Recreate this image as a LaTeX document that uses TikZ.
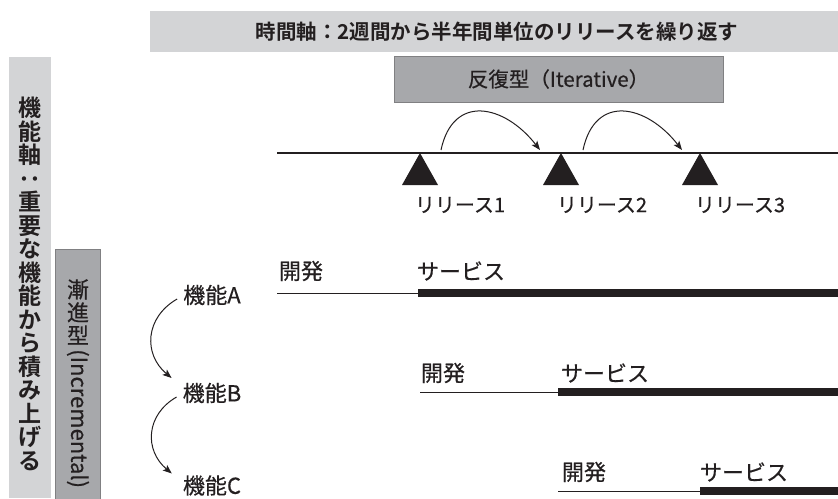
\documentclass[tikz,border=0pt]{standalone}
\usepackage{fontspec}
\setmainfont{Noto Sans CJK JP}[BoldFont={Noto Sans CJK JP Bold}]
\newfontfamily\jpm{Noto Sans CJK JP}[FakeBold=0.5]
\usetikzlibrary{arrows.meta,calc}
\definecolor{lightbar}{RGB}{211,212,214}
\definecolor{midbar}{RGB}{167,168,171}
\definecolor{border}{RGB}{128,128,130}
\definecolor{ink}{RGB}{35,31,32}
\begin{document}
\begin{tikzpicture}[x=1pt,y=-1pt,
  txt/.style={inner sep=0pt, text=ink},
  lbl/.style={txt, font=\jpm\fontsize{22}{22}\selectfont},
  rel/.style={txt, font=\jpm\fontsize{20}{20}\selectfont},
  devline/.style={line width=1pt, draw=ink},
  svcline/.style={line width=7.5pt, draw=ink},
  arr/.style={line width=1pt, draw=ink, -{Stealth[length=9pt,width=7pt,inset=2pt]}},
  tri/.style={fill=ink},
]
\useasboundingbox (0,0) rectangle (838,498);
% top bar
\fill[lightbar] (150,11) rectangle (838,52);
\node[txt, font=\bfseries\fontsize{20.5}{20.5}\selectfont] (title) at (497,32) {時間軸：2週間から半年間単位のリリースを繰り返す};
% left bar
\fill[lightbar] (9,57) rectangle (51,498);
\node[txt, font=\bfseries\fontsize{23}{23.5}\selectfont, align=center] (fax) at (30,284)
  {機\\能\\軸\\\smash{\rotatebox[origin=c]{90}{：}}\\重\\要\\な\\機\\能\\か\\ら\\積\\み\\上\\げ\\る};
% incremental bar
\draw[fill=midbar, draw=border, line width=1pt] (55,249.5) rectangle (100.5,502);
\node[txt, font=\jpm\fontsize{22}{23}\selectfont, align=center] (inc1) at (78,312) {漸\\進\\型};
\node[txt, rotate=-90, anchor=west, font=\jpm\fontsize{22}{22}\selectfont] (inc2) at (78,349) {(Incremental)};
% iterative box
\node[draw=border, fill=midbar, line width=1pt, minimum width=329pt, minimum height=46pt,
  inner sep=0pt, text=ink, font=\jpm\fontsize{20.5}{20.5}\selectfont] (iter) at (558.5,79) {反復型（Iterative）};
% timeline
\coordinate (tl0) at (277,153);
\coordinate (tl1) at (838,153);
\draw[line width=1.2pt, ink] (tl0) -- (tl1);
\coordinate (r1) at (420,153);
\coordinate (r2) at (561,153);
\coordinate (r3) at (700,153);
\foreach \r in {r1,r2,r3} \fill[tri] (\r) -- ++(-18,32) -- ++(36,0) -- cycle;
\node[rel] (l1) at (460,205) {リリース1};
\node[rel] (l2) at (602,205) {リリース2};
\node[rel] (l3) at (740,205) {リリース3};
\draw[arr] ($(r1)+(21,-3)$) to[out=78,in=128,looseness=1.5] ($(r2)+(-21,-3)$);
\draw[arr] ($(r2)+(22,-3)$) to[out=78,in=128,looseness=1.5] ($(r3)+(-18,-3)$);
% row A
\coordinate (a0) at (277,293);
\coordinate (a1) at (418,293);
\coordinate (a2) at (838,293);
\draw[devline] (a0) -- (a1);
\draw[svcline] (a1) -- (a2);
\node[lbl] (devA) at (301,271) {開発};
\node[lbl] (svcA) at (461,271) {サービス};
% row B
\coordinate (b0) at (420,392);
\coordinate (b1) at (558,392);
\coordinate (b2) at (838,392);
\draw[devline] (b0) -- (b1);
\draw[svcline] (b1) -- (b2);
\node[lbl] (devB) at (443,373) {開発};
\node[lbl] (svcB) at (605,373) {サービス};
% row C
\coordinate (c0) at (558,491);
\coordinate (c1) at (700,491);
\coordinate (c2) at (838,491);
\draw[devline] (c0) -- (c1);
\draw[svcline] (c1) -- (c2);
\node[lbl] (devC) at (584,472) {開発};
\node[lbl] (svcC) at (744,472) {サービス};
% features
\node[lbl] (fA) at (212,295) {機能A};
\node[lbl] (fB) at (212,393) {機能B};
\node[lbl] (fC) at (212,485.5) {機能C};
\draw[arr] ($(fA.west)+(-6,4)$) to[out=210,in=140,looseness=1.2] ($(fB.west)+(-11,-15)$);
\draw[arr] ($(fB.west)+(-6,4)$) to[out=210,in=140,looseness=1.2] ($(fC.west)+(-11,-12)$);
\end{tikzpicture}
\end{document}
